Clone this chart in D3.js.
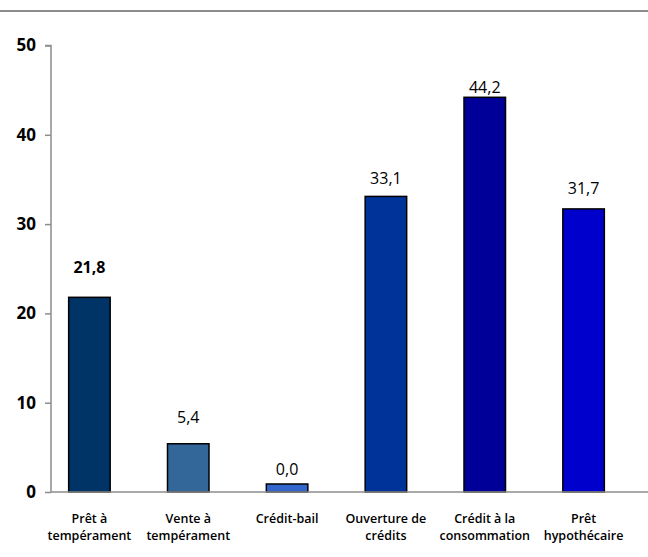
<!DOCTYPE html>
<html lang="fr">
<head>
    <meta charset="UTF-8">
    <script src="https://d3js.org/d3.v7.min.js"></script>
    <title>Crédits</title>
    <style>
        body { margin: 0; background: #fff; font-family: "Open Sans", Arial, sans-serif; }
        svg { display: block; }
    </style>
</head>
<body>
    <div id="chart"></div>

    <script>
        // données
        const categories = [
            ["Prêt à", "tempérament"],
            ["Vente à", "tempérament"],
            ["Crédit-bail"],
            ["Ouverture de", "crédits"],
            ["Crédit à la", "consommation"],
            ["Prêt", "hypothécaire"]
        ];
        const values = [21.8, 5.4, 0.0, 33.1, 44.2, 31.7];
        const valueLabels = ["21,8", "5,4", "0,0", "33,1", "44,2", "31,7"];
        const yTicks = [0, 10, 20, 30, 40, 50];

        // mise en forme
        const barColors = ["#003366", "#336699", "#3366cc", "#003399", "#000099", "#0000cc"];
        const labelLift = [24, 21, 9, 12, 4, 15];   // étiquettes déplacées à la main dans l'original

        const width = 648, height = 557;
        const svg = d3.select('#chart')
            .append('svg')
            .attr('width', width)
            .attr('height', height);

        // filet gris en haut
        svg.append('line')
            .attr('x1', 0).attr('x2', width)
            .attr('y1', 11).attr('y2', 11)
            .attr('stroke', '#8c8c8c')
            .attr('stroke-width', 2);

        const x = d3.scaleBand()
            .domain(d3.range(categories.length))
            .range([40, 633])
            .paddingInner(0.58)
            .paddingOuter(0.29);

        const y = d3.scaleLinear()
            .domain([0, 50])
            .range([492, 45.5]);

        const axisX = 51;

        // axe Y
        const yAxis = svg.append('g')
            .attr('transform', `translate(${axisX},0)`)
            .call(d3.axisLeft(y).tickValues(yTicks).tickSize(6).tickPadding(9).tickFormat(d3.format('d')));
        yAxis.select('.domain').attr('stroke', '#8c8c8c').attr('stroke-width', 1.5)
            .attr('d', `M-6,${y(50)}H0V${y(0)}`);
        yAxis.selectAll('.tick line').attr('stroke', '#8c8c8c').attr('stroke-width', 1.5);
        yAxis.selectAll('.tick text')
            .attr('font-family', '"Open Sans", Arial, sans-serif')
            .attr('font-size', '17px')
            .attr('font-weight', 'bold')
            .attr('fill', '#000');

        // barres
        svg.append('g')
            .selectAll('rect')
            .data(values)
            .enter()
            .append('rect')
            .attr('x', (d, i) => x(i))
            .attr('width', x.bandwidth())
            .attr('y', d => Math.min(y(d), y(0) - 8))
            .attr('height', d => Math.max(y(0) - y(d), 8))
            .attr('fill', (d, i) => barColors[i])
            .attr('stroke', '#000')
            .attr('stroke-width', 1.5);

        // axe X
        svg.append('line')
            .attr('x1', axisX).attr('x2', width)
            .attr('y1', y(0)).attr('y2', y(0))
            .attr('stroke', '#8c8c8c')
            .attr('stroke-width', 1.5);

        // valeurs
        svg.append('g')
            .selectAll('text')
            .data(values)
            .enter()
            .append('text')
            .attr('x', (d, i) => x(i) + x.bandwidth() / 2)
            .attr('y', d => Math.min(y(d), y(0) - 8))
            .attr('dy', (d, i) => -labelLift[i])
            .attr('text-anchor', 'middle')
            .attr('font-size', '16px')
            .attr('font-weight', (d, i) => i === 0 ? 'bold' : 'normal')
            .attr('fill', '#000')
            .text((d, i) => valueLabels[i]);

        // libellés des catégories
        const catText = svg.append('g')
            .selectAll('text')
            .data(categories)
            .enter()
            .append('text')
            .attr('x', (d, i) => x(i) + x.bandwidth() / 2)
            .attr('y', 523)
            .attr('text-anchor', 'middle')
            .attr('font-size', '12.5px')
            .attr('font-weight', 600)
            .attr('fill', '#000');

        catText.selectAll('tspan')
            .data(d => d)
            .enter()
            .append('tspan')
            .attr('x', function () { return this.parentNode.getAttribute('x'); })
            .attr('dy', (d, j) => j === 0 ? 0 : 17)
            .text(d => d);
    </script>
</body>
</html>
